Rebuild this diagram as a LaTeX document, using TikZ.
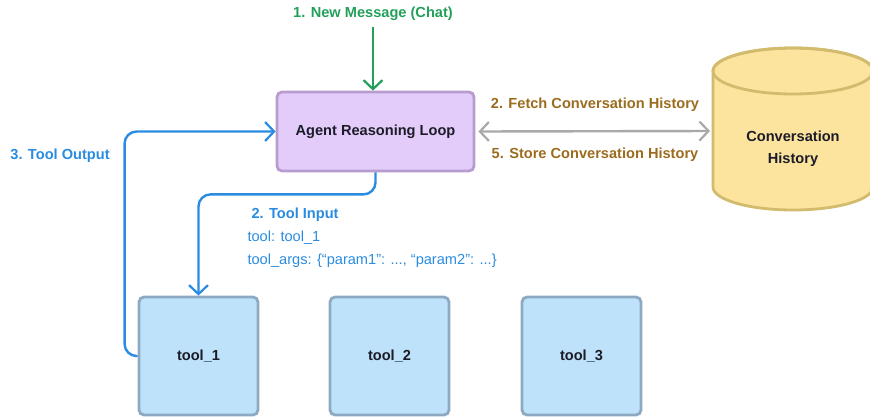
\documentclass[tikz,border=0pt]{standalone}
\usepackage{fontspec}
\setmainfont{Liberation Sans}
\usetikzlibrary{arrows.meta}
\definecolor{agentfill}{HTML}{E3CCFA}
\definecolor{agentdraw}{HTML}{B89CD0}
\definecolor{toolfill}{HTML}{BDE2FA}
\definecolor{tooldraw}{HTML}{8EAAC2}
\definecolor{dbfill}{HTML}{FCE49E}
\definecolor{dbdraw}{HTML}{D2BB6C}
\definecolor{flowblue}{HTML}{2A8CE0}
\definecolor{flowgreen}{HTML}{22A05A}
\definecolor{flowbrown}{HTML}{9C6C1E}
\definecolor{flowgray}{HTML}{A9A9A9}
\definecolor{ink}{HTML}{1C1C28}
\tikzset{barb/.tip={Straight Barb[length=9pt,width=19pt,line width=2.2pt]}}
\newcommand\labelfont{\fontsize{14.6pt}{17pt}\selectfont}
\begin{document}
\begin{tikzpicture}[x=1pt,y=-1pt,
  every node/.style={font=\labelfont},
  agentbox/.style={draw=agentdraw, fill=agentfill, line width=2.8pt, rounded corners=5pt,
    minimum width=197pt, minimum height=79pt, text=ink, font=\labelfont\bfseries},
  toolbox/.style={draw=tooldraw, fill=toolfill, line width=2.8pt, rounded corners=5pt,
    minimum width=119pt, minimum height=118pt, text=ink, font=\labelfont\bfseries},
  flow/.style={line width=2.4pt, -barb},
  bluelabel/.style={text=flowblue, font=\labelfont\bfseries},
  bluetext/.style={text=flowblue, font=\labelfont},
  brownlabel/.style={text=flowbrown, font=\labelfont\bfseries},
]
\useasboundingbox (0,0) rectangle (870,416);
\clip (0,0) rectangle (870,416);

% conversation store (cylinder)
\filldraw[fill=dbfill, draw=dbdraw, line width=2.8pt]
  (713,71) -- (713,187) arc[start angle=180, end angle=0, x radius=80, y radius=23]
  -- (873,71) arc[start angle=0, end angle=-180, x radius=80, y radius=23] -- cycle;
\draw[dbdraw, line width=2.8pt] (793,71) ellipse[x radius=80, y radius=23];
\node[text=ink, font=\fontsize{14.6pt}{22pt}\selectfont\bfseries, align=center,
  minimum width=160pt, minimum height=116pt] (hist) at (793,149) {Conversation\\History};
\coordinate (histL) at (713,131);

% main nodes
\node[agentbox] (agent) at (375.5,131.5) {Agent Reasoning Loop};
\node[toolbox] (tool1) at (198.5,356) {tool\_1};
\node[toolbox] (tool2) at (389.5,356) {tool\_2};
\node[toolbox] (tool3) at (581.5,356) {tool\_3};

% labels
\node[text=flowgreen, font=\labelfont\bfseries] (msg) at (373,14) {1. New Message (Chat)};
\node[brownlabel] (fetch) at (595,105) {2. Fetch Conversation History};
\node[brownlabel] (store) at (595,155) {5. Store Conversation History};
\node[bluelabel] (out) at (60,156) {3. Tool Output};
\node[bluelabel, anchor=west] (inlbl) at (248,215) {2. Tool Input};
\node[bluetext, anchor=west] (inl1) at (244,238) {tool: tool\_1};
\node[bluetext, anchor=west] (inl2) at (244,261) {tool\_args: \{“param1”: ..., “param2”: ...\}};

% connectors
\draw[flow, flowgreen, shorten <=3pt] (msg.south) -- (msg.south |- agent.north);
\draw[line width=2.4pt, flowgray, barb-barb, shorten <=3pt, shorten >=3pt] (agent.east) -- (histL);
\draw[flow, flowblue, rounded corners=12pt] (tool1.west) -- ++(-13,0) |- (agent.west);
\draw[flow, flowblue, rounded corners=12pt] (agent.south) -- ++(0,22) -| (tool1.north);
\end{tikzpicture}
\end{document}
